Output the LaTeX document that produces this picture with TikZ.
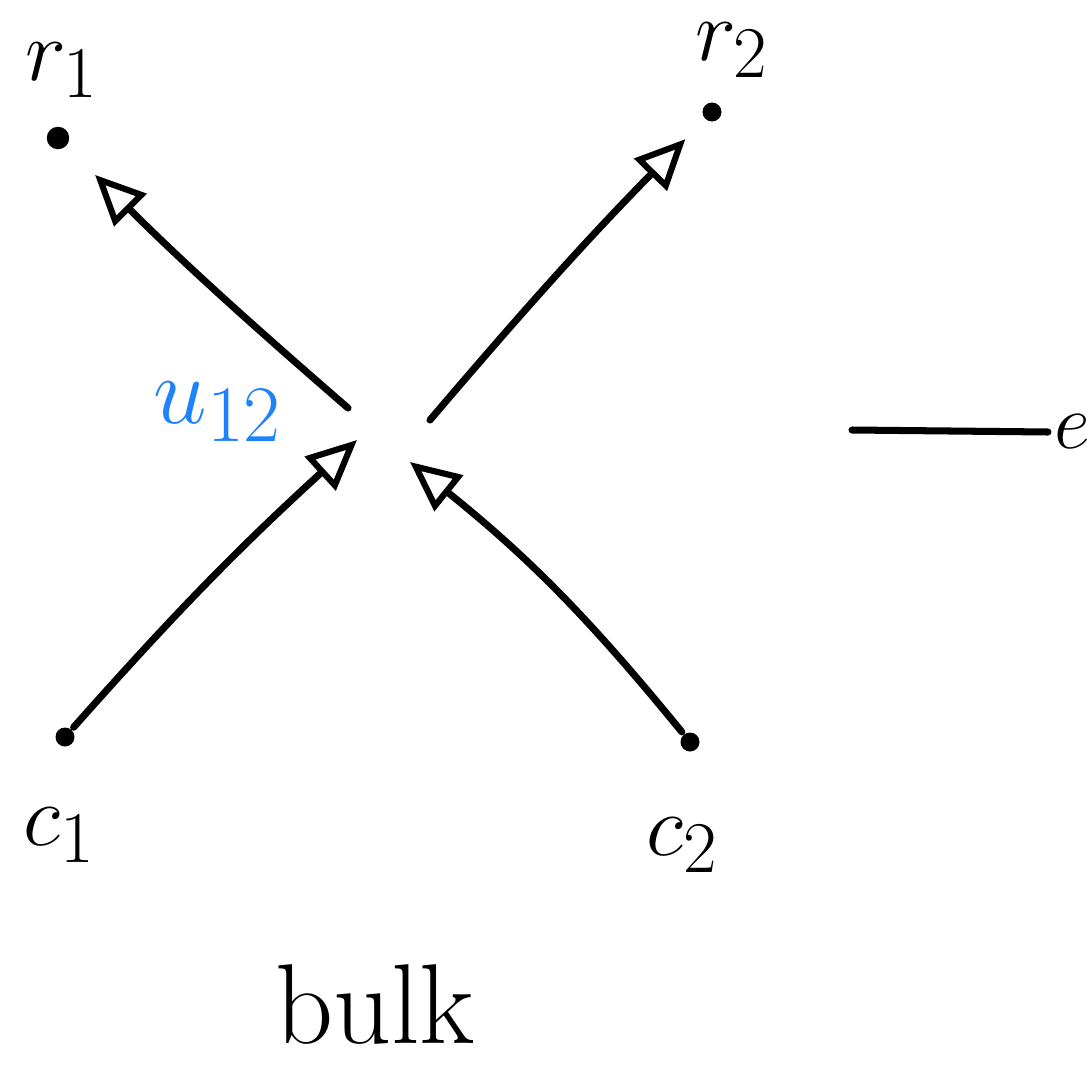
\documentclass[tikz,border=0pt]{standalone}
\usepackage{amsmath,amssymb}
\usepackage{tikz}
\usetikzlibrary{arrows.meta}
\definecolor{penblue}{RGB}{30,130,250}

\begin{document}
\begin{tikzpicture}[x=0.02cm, y=-0.02cm, hand/.style={font=\Huge, inner sep=0pt, scale=2, transform shape}, >={Triangle[open, length=10mm, width=9mm, line width=3.5pt]}, line width=4pt, line cap=round]
	\useasboundingbox (0,0) rectangle (1090,1069);
	\node[circle, fill, inner sep=0pt, minimum size=0.45cm] (r1dot) at (58,138) {};
	\node[circle, fill, inner sep=0pt, minimum size=0.38cm] (r2dot) at (712,112) {};
	\node[circle, fill, inner sep=0pt, minimum size=0.38cm] (c1dot) at (65,737) {};
	\node[circle, fill, inner sep=0pt, minimum size=0.38cm] (c2dot) at (690,742) {};
	\node[hand] (r1) at (62,70) {$r_1$};
	\node[hand] (r2) at (732,50) {$r_2$};
	\node[hand] (c1) at (60,835) {$c_1$};
	\node[hand] (c2) at (683,845) {$c_2$};
	\node[hand, scale=1.1, penblue] (u12) at (218,412) {$u_{12}$};
	\node[hand, scale=1.3] (bulk) at (375,1005) {bulk};
	\coordinate (m1) at (348,408);
	\coordinate (m1in) at (357,440);
	\coordinate (m2) at (430,420);
	\coordinate (m2in) at (410,462);
	\draw[->, shorten >=0.75cm] (m1) to[bend left=2] (r1dot);
	\draw[->] (c1dot) to[bend left=3] (m1in);
	\draw[->, shorten >=0.5cm] (m2) to[bend left=2] (r2dot);
	\draw[->] (c2dot) to[bend right=6] (m2in);
	\coordinate (w) at (852,430);
	\node[hand, scale=0.9, anchor=west] (e) at (1048,432) {$e$};
	\draw (w) -- (e.west);
\end{tikzpicture}
\end{document}
